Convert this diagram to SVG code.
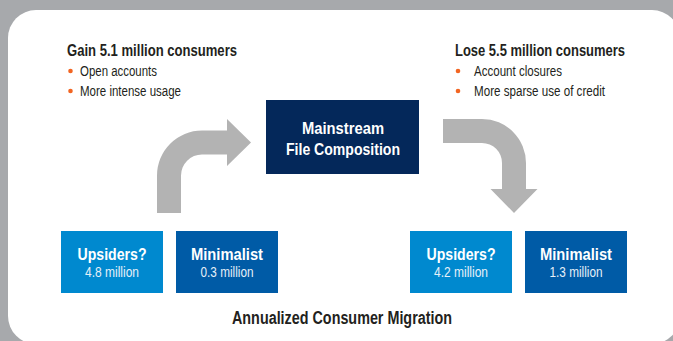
<svg xmlns="http://www.w3.org/2000/svg" width="673" height="341" viewBox="0 0 673 341">
  <style>
    text { font-family: "Liberation Sans Narrow", "Liberation Sans", Arial, sans-serif; }
    .hd { font-size: 16px; font-weight: bold; fill: #231f20; }
    .bl { font-size: 14px; fill: #231f20; }
    .dot { fill: #f26522; }
    .arrow { fill: #b3b3b3; }
    .lbl { font-size: 17px; font-weight: bold; fill: #ffffff; text-anchor: middle; }
    .num { font-size: 14px; fill: #e6f0f8; text-anchor: middle; }
    .light { fill: #0089cf; }
    .mid { fill: #005ba6; }
    .dark { fill: #04285a; }
    .title { font-size: 17.5px; font-weight: bold; fill: #231f20; text-anchor: middle; }
  </style>
  <rect x="0" y="0" width="673" height="341" fill="#a7a9ac"/>
  <rect x="8" y="10" width="672" height="334" rx="28" ry="28" fill="#ffffff"/>

  <g id="gain-text">
    <text class="hd" x="67" y="56" textLength="170" lengthAdjust="spacingAndGlyphs">Gain 5.1 million consumers</text>
    <circle class="dot" cx="70.5" cy="71" r="2.3"/>
    <text class="bl" x="80" y="76" textLength="77" lengthAdjust="spacingAndGlyphs">Open accounts</text>
    <circle class="dot" cx="70.5" cy="91" r="2.3"/>
    <text class="bl" x="80" y="96" textLength="101" lengthAdjust="spacingAndGlyphs">More intense usage</text>
  </g>

  <g id="lose-text">
    <text class="hd" x="455" y="56" textLength="170" lengthAdjust="spacingAndGlyphs">Lose 5.5 million consumers</text>
    <circle class="dot" cx="458" cy="71" r="2.3"/>
    <text class="bl" x="474" y="76" textLength="88" lengthAdjust="spacingAndGlyphs">Account closures</text>
    <circle class="dot" cx="458" cy="91" r="2.3"/>
    <text class="bl" x="474" y="96" textLength="131" lengthAdjust="spacingAndGlyphs">More sparse use of credit</text>
  </g>

  <g id="connectors">
    <path class="arrow" d="M157,213 L157,175.5 A45,45 0 0 1 202,130.5 L227,130.5 L227,119 L251,142.5 L227,166 L227,154.5 L202,154.5 A21,21 0 0 0 181,175.5 L181,213 Z"/>
    <path class="arrow" d="M443,119 L482,119 A44,44 0 0 1 526,163 L526,189 L537.5,189 L514,213 L490.5,189 L502,189 L502,163 A20,20 0 0 0 482,143 L443,143 Z"/>
  </g>

  <g id="mainstream">
    <rect class="dark" x="266" y="100" width="153" height="74"/>
    <text class="lbl" x="343" y="134" textLength="82" lengthAdjust="spacingAndGlyphs">Mainstream</text>
    <text class="lbl" x="343" y="155" textLength="114" lengthAdjust="spacingAndGlyphs">File Composition</text>
  </g>

  <g id="upsiders-left">
    <rect class="light" x="61" y="231" width="102" height="62"/>
    <text class="lbl" x="112" y="260" textLength="69" lengthAdjust="spacingAndGlyphs">Upsiders?</text>
    <text class="num" x="112" y="277" textLength="54" lengthAdjust="spacingAndGlyphs">4.8 million</text>
  </g>
  <g id="minimalist-left">
    <rect class="mid" x="176" y="231" width="102" height="62"/>
    <text class="lbl" x="227" y="260" textLength="72" lengthAdjust="spacingAndGlyphs">Minimalist</text>
    <text class="num" x="227" y="277" textLength="53" lengthAdjust="spacingAndGlyphs">0.3 million</text>
  </g>
  <g id="upsiders-right">
    <rect class="light" x="410" y="231" width="102" height="62"/>
    <text class="lbl" x="461" y="260" textLength="69" lengthAdjust="spacingAndGlyphs">Upsiders?</text>
    <text class="num" x="461" y="277" textLength="54" lengthAdjust="spacingAndGlyphs">4.2 million</text>
  </g>
  <g id="minimalist-right">
    <rect class="mid" x="525" y="231" width="102" height="62"/>
    <text class="lbl" x="576" y="260" textLength="72" lengthAdjust="spacingAndGlyphs">Minimalist</text>
    <text class="num" x="576" y="277" textLength="53" lengthAdjust="spacingAndGlyphs">1.3 million</text>
  </g>

  <g id="title">
    <text class="title" x="342" y="324" textLength="220" lengthAdjust="spacingAndGlyphs">Annualized Consumer Migration</text>
  </g>
</svg>
